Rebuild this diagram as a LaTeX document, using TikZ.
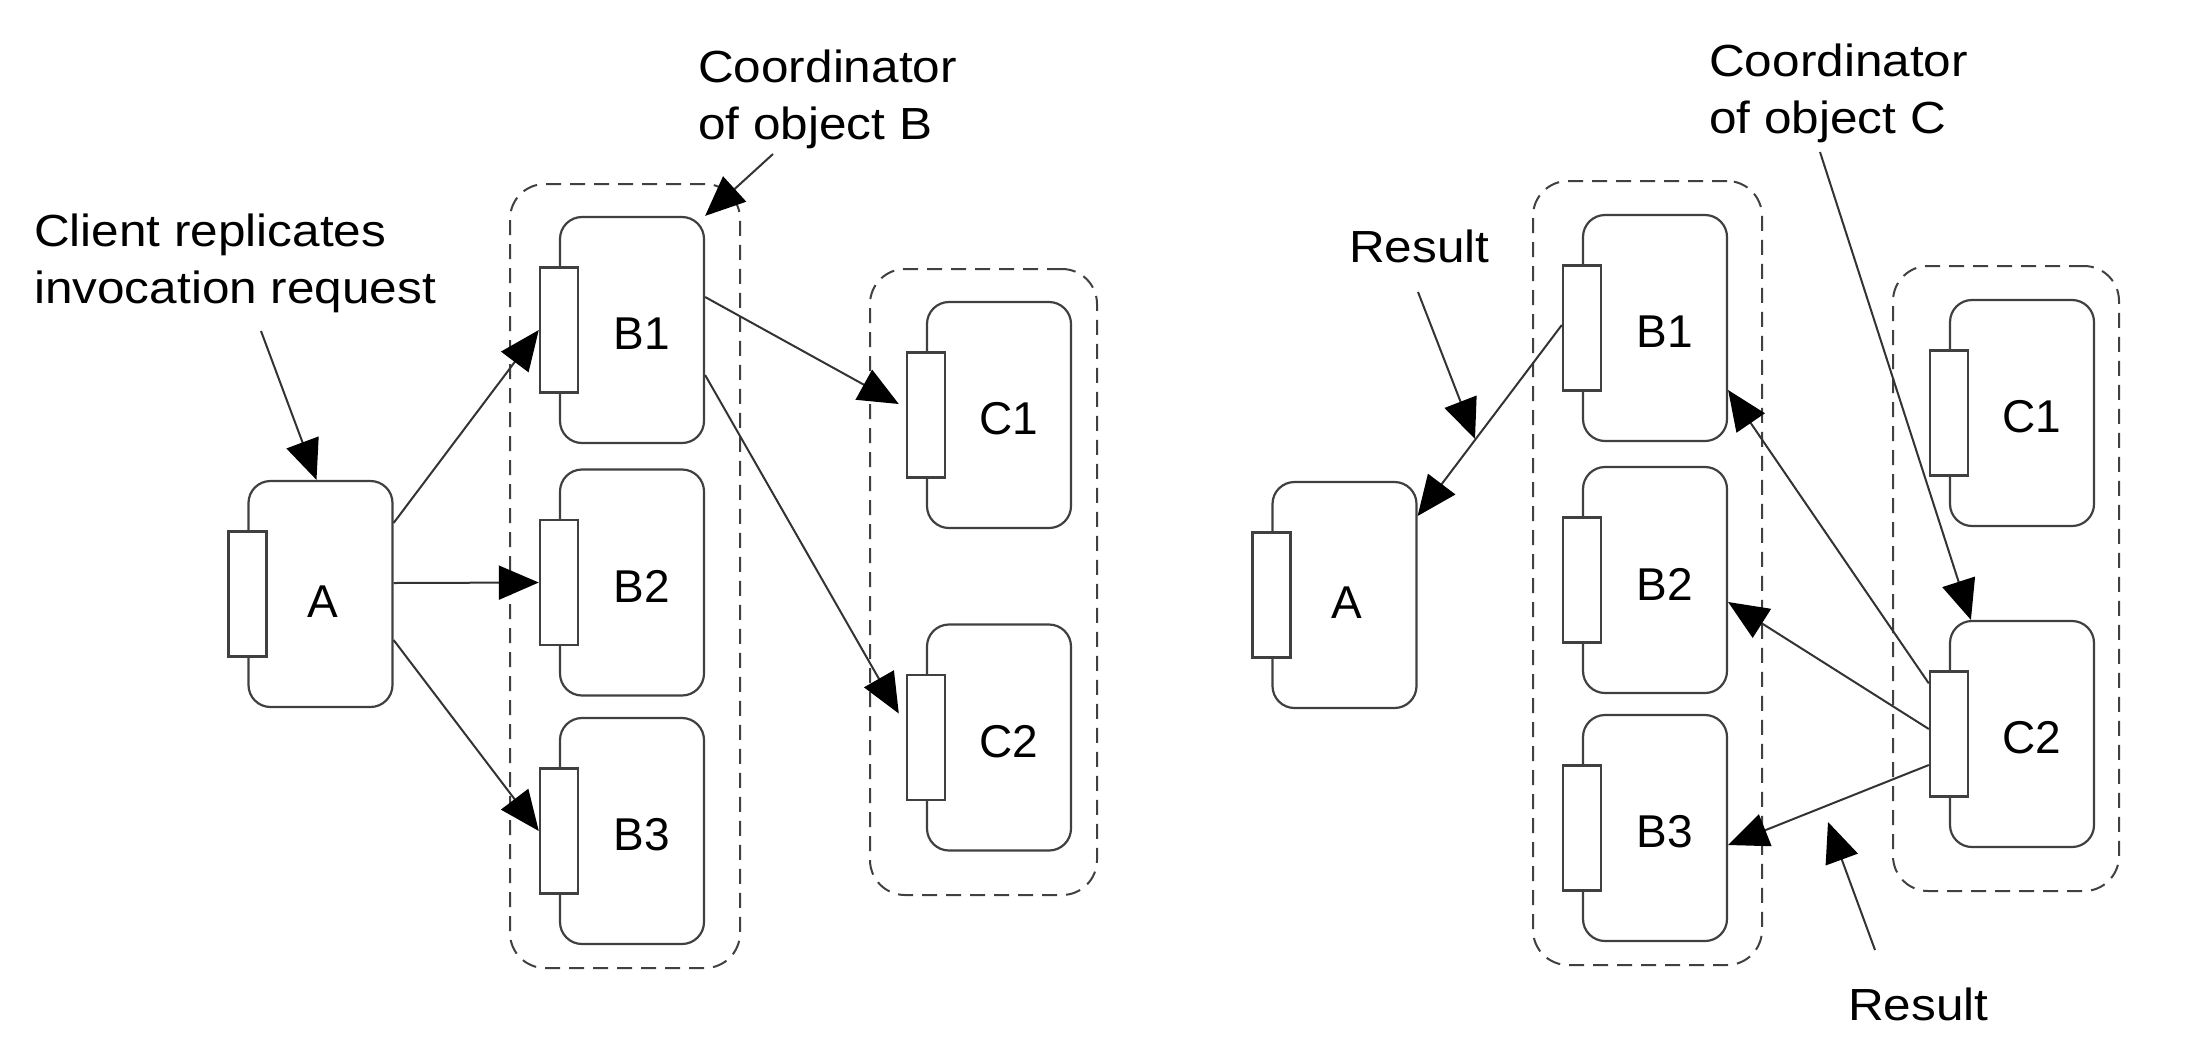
\documentclass[tikz,border=0pt]{standalone}
\usepackage{fontspec}
\setmainfont{Liberation Sans}
\newfontfamily\annfont{Liberation Sans}[FakeStretch=1.1]
\usetikzlibrary{arrows.meta,calc}
\begin{document}
\begin{tikzpicture}[x=1pt,y=1pt,
 objbox/.style={draw=black!75,line width=2.2pt,rounded corners=22pt,minimum width=144pt,minimum height=226pt,inner sep=0pt},
 port/.style={draw=black!75,line width=2.2pt,fill=white,minimum width=38pt,minimum height=125pt,inner sep=0pt},
 grp/.style={draw=black!75,line width=2pt,dash pattern=on 15pt off 9pt,rounded corners=35pt,inner sep=0pt},
 lbl/.style={font=\fontsize{46}{55}\selectfont,inner sep=0pt},
 ann/.style={font=\annfont\fontsize{45}{57}\selectfont,align=left,inner sep=0pt,anchor=north west},
 conn/.style={draw=black!80,line width=2pt,-{Triangle[length=40pt,width=34pt,color=black]}},
]
\useasboundingbox (0,0) rectangle (2202,-1042);

% ---------- left half ----------
\node[grp,minimum width=230pt,minimum height=784pt] (gB) at (625,-576) {};
\node[grp,minimum width=227pt,minimum height=626pt] (gC) at (983.5,-582) {};

\node[objbox] (A) at (320.5,-594) {};
\node[port] (pA) at (A.west) {};
\node[lbl] (lA) at ($(A.center)+(2,-8)$) {A};

\node[objbox] (B1) at (632,-330) {};
\node[port] (pB1) at (B1.west) {};
\node[lbl] (lB1) at ($(B1.center)+(10,-4)$) {B1};

\node[objbox] (B2) at (632,-582.5) {};
\node[port] (pB2) at (B2.west) {};
\node[lbl] (lB2) at ($(B2.center)+(10,-4)$) {B2};

\node[objbox] (B3) at (632,-831) {};
\node[port] (pB3) at (B3.west) {};
\node[lbl] (lB3) at ($(B3.center)+(10,-4)$) {B3};

\node[objbox] (C1) at (999,-415) {};
\node[port] (pC1) at (C1.west) {};
\node[lbl] (lC1) at ($(C1.center)+(10,-4)$) {C1};

\node[objbox] (C2) at (999,-737.5) {};
\node[port] (pC2) at (C2.west) {};
\node[lbl] (lC2) at ($(C2.center)+(10,-4)$) {C2};

\node[ann] (tClient) at (34,-214) {Client replicates\\invocation request};
\node[ann] (tCoordB) at (698,-50) {Coordinator\\of object B};

\coordinate (sClient) at (261,-331);
\coordinate (sCoordB) at (773,-154);

\draw[conn] (sClient) -- ([xshift=-4pt]A.north);
\draw[conn] (sCoordB) -- (B1.north east);
\draw[conn] ([yshift=71pt]A.east) -- (pB1.west);
\draw[conn] ([yshift=11pt]A.east) -- (pB2.west);
\draw[conn] ([yshift=-46pt]A.east) -- (pB3.west);
\draw[conn] ([yshift=33pt]B1.east) -- ([xshift=-7pt,yshift=11pt]pC1.west);
\draw[conn] ([yshift=-45pt]B1.east) -- ([xshift=-7pt,yshift=24pt]pC2.west);

% ---------- right half ----------
\node[grp,minimum width=229pt,minimum height=784pt] (gBr) at (1647.5,-573) {};
\node[grp,minimum width=226pt,minimum height=625pt] (gCr) at (2006,-578.5) {};

\node[objbox] (Ar) at (1344.5,-595) {};
\node[port] (pAr) at (Ar.west) {};
\node[lbl] (lAr) at ($(Ar.center)+(2,-8)$) {A};

\node[objbox] (B1r) at (1655,-328) {};
\node[port] (pB1r) at (B1r.west) {};
\node[lbl] (lB1r) at ($(B1r.center)+(10,-4)$) {B1};

\node[objbox] (B2r) at (1655,-580) {};
\node[port] (pB2r) at (B2r.west) {};
\node[lbl] (lB2r) at ($(B2r.center)+(10,-4)$) {B2};

\node[objbox] (B3r) at (1655,-828) {};
\node[port] (pB3r) at (B3r.west) {};
\node[lbl] (lB3r) at ($(B3r.center)+(10,-4)$) {B3};

\node[objbox] (C1r) at (2022,-413) {};
\node[port] (pC1r) at (C1r.west) {};
\node[lbl] (lC1r) at ($(C1r.center)+(10,-4)$) {C1};

\node[objbox] (C2r) at (2022,-734) {};
\node[port] (pC2r) at (C2r.west) {};
\node[lbl] (lC2r) at ($(C2r.center)+(10,-4)$) {C2};

\node[ann] (tCoordC) at (1709,-44) {Coordinator\\of object C};
\node[ann] (tResTop) at (1349,-230) {Result};
\node[ann] (tResBot) at (1848,-988) {Result};

\coordinate (sResTop) at (1418,-292);
\coordinate (eResTop) at (1475,-439);
\coordinate (sCoordC) at (1820,-152);
\coordinate (sResBot) at (1875,-950);
\coordinate (eResBot) at (1828,-822);

\draw[conn] (sResTop) -- (eResTop);
\draw[conn] (sCoordC) -- ([xshift=22pt]C2r.north west);
\draw[conn] (sResBot) -- (eResBot);
\draw[conn] ([yshift=3pt]pB1r.west) -- ([yshift=79pt]Ar.east);
\draw[conn] ([yshift=-13pt]pC2r.north west) -- ([yshift=-62pt]B1r.east);
\draw[conn] ([yshift=5pt]pC2r.west) -- ([yshift=-22pt]B2r.east);
\draw[conn] ([yshift=-31pt]pC2r.west) -- ([yshift=-17pt]B3r.east);
\end{tikzpicture}
\end{document}
